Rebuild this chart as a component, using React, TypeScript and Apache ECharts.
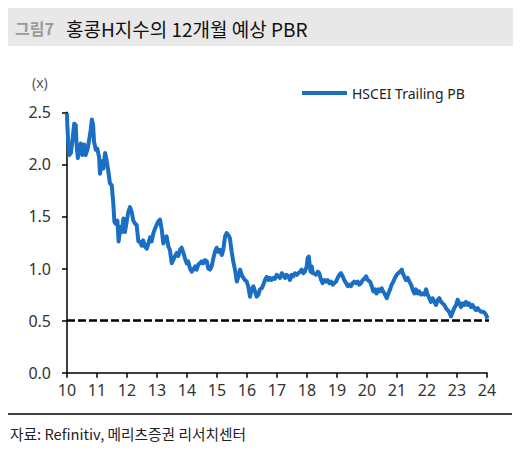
import React, { useEffect, useRef } from "react";
import * as echarts from "echarts";

const TITLE_TAG = "그림7";
const TITLE = "홍콩H지수의 12개월 예상 PBR";
const SOURCE = "자료: Refinitiv, 메리츠증권 리서치센터";
const UNIT = "(x)";
const SERIES_NAME = "HSCEI Trailing PB";

const X_MIN = 2010;
const X_MAX = 2024;
const Y_MIN = 0;
const Y_MAX = 2.5;
const Y_STEP = 0.5;
const REF_LEVEL = 0.5;
const REF_RANGE = [2010, 2024.37];

// fractional year positions
const dates = [
  2010.0, 2010.01, 2010.04, 2010.08, 2010.13, 2010.19, 2010.24, 2010.29, 2010.32, 2010.36,
  2010.41, 2010.46, 2010.51, 2010.57, 2010.62, 2010.68, 2010.73, 2010.79, 2010.83, 2010.87,
  2010.9, 2010.96, 2011.01, 2011.07, 2011.1, 2011.16, 2011.21, 2011.27, 2011.32, 2011.38,
  2011.43, 2011.49, 2011.54, 2011.58, 2011.62, 2011.68, 2011.72, 2011.78, 2011.83, 2011.88,
  2011.93, 2011.99, 2012.04, 2012.1, 2012.16, 2012.21, 2012.27, 2012.32, 2012.38, 2012.43,
  2012.49, 2012.54, 2012.6, 2012.66, 2012.71, 2012.77, 2012.82, 2012.88, 2012.93, 2012.99,
  2013.04, 2013.1, 2013.16, 2013.21, 2013.27, 2013.32, 2013.38, 2013.43, 2013.49, 2013.54,
  2013.6, 2013.66, 2013.71, 2013.77, 2013.82, 2013.88, 2013.93, 2013.99, 2014.04, 2014.1,
  2014.16, 2014.21, 2014.27, 2014.32, 2014.38, 2014.43, 2014.49, 2014.54, 2014.6, 2014.66,
  2014.71, 2014.77, 2014.82, 2014.88, 2014.93, 2014.99, 2015.04, 2015.1, 2015.16, 2015.21,
  2015.27, 2015.32, 2015.38, 2015.43, 2015.49, 2015.54, 2015.6, 2015.66, 2015.71, 2015.77,
  2015.82, 2015.88, 2015.93, 2015.99, 2016.04, 2016.1, 2016.16, 2016.21, 2016.27, 2016.32,
  2016.38, 2016.43, 2016.49, 2016.54, 2016.6, 2016.66, 2016.71, 2016.77, 2016.82, 2016.88,
  2016.93, 2016.99, 2017.04, 2017.1, 2017.16, 2017.21, 2017.27, 2017.32, 2017.38, 2017.43,
  2017.49, 2017.54, 2017.6, 2017.66, 2017.71, 2017.77, 2017.82, 2017.88, 2017.93, 2017.99,
  2018.02, 2018.06, 2018.09, 2018.12, 2018.16, 2018.19, 2018.24, 2018.3, 2018.36, 2018.41,
  2018.47, 2018.52, 2018.58, 2018.63, 2018.69, 2018.74, 2018.8, 2018.86, 2018.91, 2018.97,
  2019.02, 2019.08, 2019.13, 2019.19, 2019.24, 2019.3, 2019.36, 2019.41, 2019.47, 2019.52,
  2019.58, 2019.63, 2019.69, 2019.74, 2019.8, 2019.86, 2019.91, 2019.97, 2020.02, 2020.1,
  2020.16, 2020.21, 2020.27, 2020.32, 2020.38, 2020.43, 2020.49, 2020.54, 2020.6, 2020.66,
  2020.71, 2020.77, 2020.82, 2020.88, 2020.93, 2020.99, 2021.04, 2021.1, 2021.16, 2021.19,
  2021.24, 2021.3, 2021.36, 2021.41, 2021.47, 2021.52, 2021.58, 2021.63, 2021.69, 2021.74,
  2021.8, 2021.86, 2021.91, 2021.97, 2022.02, 2022.08, 2022.13, 2022.19, 2022.24, 2022.3,
  2022.36, 2022.41, 2022.47, 2022.52, 2022.58, 2022.63, 2022.69, 2022.74, 2022.8, 2022.86,
  2022.91, 2022.97, 2023.02, 2023.08, 2023.13, 2023.19, 2023.24, 2023.3, 2023.36, 2023.41,
  2023.47, 2023.52, 2023.58, 2023.63, 2023.69, 2023.74, 2023.8, 2023.86, 2023.91, 2023.97,
  2024.02,
];

const pb = [
  2.49, 2.38, 2.22, 2.09, 2.11, 2.25, 2.39, 2.38, 2.19, 2.06,
  2.15, 2.2, 2.09, 2.19, 2.09, 2.14, 2.22, 2.33, 2.43, 2.38,
  2.22, 2.14, 2.15, 2.07, 1.91, 2.03, 1.96, 2.11, 2.04, 1.93,
  1.82, 1.8, 1.64, 1.45, 1.43, 1.46, 1.26, 1.4, 1.35, 1.48,
  1.35, 1.45, 1.54, 1.59, 1.54, 1.46, 1.43, 1.42, 1.26, 1.26,
  1.22, 1.27, 1.21, 1.19, 1.24, 1.3, 1.26, 1.34, 1.38, 1.42,
  1.45, 1.47, 1.37, 1.24, 1.29, 1.31, 1.21, 1.18, 1.05, 1.08,
  1.12, 1.15, 1.12, 1.18, 1.2, 1.15, 1.1, 1.05, 1.07, 1.0,
  0.97, 0.99, 1.02, 0.99, 1.04, 1.05, 1.07, 1.05, 1.08, 1.07,
  1.0, 0.99, 1.02, 1.1, 1.16, 1.2, 1.16, 1.18, 1.13, 1.18,
  1.31, 1.34, 1.32, 1.29, 1.16, 1.07, 0.99, 0.875, 0.92, 0.99,
  0.94, 0.91, 0.89, 0.875, 0.83, 0.73, 0.8, 0.83, 0.78, 0.73,
  0.75, 0.8, 0.81, 0.84, 0.89, 0.92, 0.89, 0.91, 0.89, 0.91,
  0.9, 0.94, 0.925, 0.91, 0.955, 0.94, 0.91, 0.94, 0.925, 0.89,
  0.94, 0.925, 0.955, 0.94, 0.955, 0.97, 0.99, 0.955, 0.97, 1.02,
  1.1, 1.115, 1.035, 0.97, 1.02, 0.955, 0.955, 0.94, 0.97, 0.955,
  0.89, 0.86, 0.89, 0.875, 0.89, 0.86, 0.875, 0.845, 0.86, 0.875,
  0.91, 0.94, 0.955, 0.925, 0.89, 0.86, 0.83, 0.845, 0.83, 0.86,
  0.875, 0.86, 0.875, 0.845, 0.86, 0.89, 0.9, 0.925, 0.89, 0.875,
  0.83, 0.78, 0.8, 0.76, 0.8, 0.78, 0.81, 0.78, 0.75, 0.715,
  0.76, 0.8, 0.845, 0.875, 0.91, 0.94, 0.955, 0.97, 0.99, 0.955,
  0.925, 0.89, 0.91, 0.875, 0.845, 0.8, 0.76, 0.8, 0.76, 0.78,
  0.75, 0.76, 0.75, 0.8, 0.75, 0.715, 0.68, 0.715, 0.68, 0.65,
  0.7, 0.715, 0.68, 0.665, 0.65, 0.62, 0.6, 0.585, 0.54, 0.585,
  0.62, 0.65, 0.7, 0.665, 0.63, 0.665, 0.65, 0.68, 0.65, 0.665,
  0.63, 0.65, 0.62, 0.6, 0.62, 0.6, 0.585, 0.585, 0.58, 0.555,
  0.52,
];

const LATIN = "'Noto Sans', 'Open Sans', sans-serif";
const KR = "'Noto Sans CJK KR', 'Noto Sans', sans-serif";
const BLUE = "#1a6ec4";

export default function App() {
  const ref = useRef<HTMLDivElement>(null);

  useEffect(() => {
    if (!ref.current) return;
    const chart = echarts.init(ref.current, undefined, { renderer: "svg" });
    const lineData = dates.map((d, i) => [d, pb[i]]);
    const refData = REF_RANGE.map((d) => [d, REF_LEVEL]);

    chart.setOption({
      animation: false,
      backgroundColor: "#ffffff",
      grid: {
        left: 67,
        right: 36,
        top: 112.3,
        bottom: 77.3,
        containLabel: false,
        outerBoundsMode: "none",
      },
      legend: {
        data: [{ name: SERIES_NAME, icon: "rect", itemStyle: { color: BLUE } }],
        left: 297,
        top: 81,
        itemWidth: 45,
        itemHeight: 4,
        itemGap: 5,
        textStyle: { fontFamily: LATIN, fontSize: 14, color: "#222" },
      },
      xAxis: {
        type: "value",
        min: X_MIN,
        max: X_MAX,
        interval: 1,
        axisLine: { show: true, lineStyle: { color: "#000", width: 1.5 } },
        axisTick: { show: true, inside: false, length: 5, lineStyle: { color: "#000", width: 1.5 } },
        splitLine: { show: false },
        axisLabel: {
          margin: 9,
          fontFamily: LATIN,
          fontSize: 16,
          color: "#333",
          formatter: (v: number) => String(Math.round(v - 2000)),
        },
      },
      yAxis: {
        type: "value",
        min: Y_MIN,
        max: Y_MAX,
        interval: Y_STEP,
        axisLine: { show: true, lineStyle: { color: "#000", width: 1.5 } },
        axisTick: { show: true, inside: false, length: 5, lineStyle: { color: "#000", width: 1.5 } },
        splitLine: { show: false },
        axisLabel: {
          margin: 16,
          fontFamily: LATIN,
          fontSize: 16,
          color: "#333",
          formatter: (v: number) => v.toFixed(1),
        },
      },
      series: [
        {
          name: "ref",
          type: "line",
          data: refData,
          symbol: "none",
          clip: false,
          silent: true,
          lineStyle: { color: "#000", width: 2.5, type: [8, 3] },
          z: 2,
        },
        {
          name: SERIES_NAME,
          type: "line",
          data: lineData,
          symbol: "none",
          clip: false,
          lineStyle: { color: BLUE, width: 4, join: "round" },
          itemStyle: { color: BLUE },
          z: 3,
        },
      ],
      graphic: [
        {
          type: "rect",
          shape: { x: 8, y: 8, width: 505, height: 38 },
          style: { fill: "#e8e8e8" },
          silent: true,
        },
        {
          type: "text",
          x: 15,
          y: 28,
          style: {
            text: TITLE_TAG,
            fill: "#9a9a9a",
            font: `bold 16px ${KR}`,
            verticalAlign: "middle",
          },
        },
        {
          type: "text",
          x: 66,
          y: 28,
          style: {
            text: TITLE,
            fill: "#111",
            font: `19px ${KR}`,
            verticalAlign: "middle",
          },
        },
        {
          type: "text",
          x: 32,
          y: 82,
          style: {
            text: UNIT,
            fill: "#555",
            font: `14px ${LATIN}`,
            verticalAlign: "middle",
          },
        },
        {
          type: "line",
          shape: { x1: 8, y1: 414, x2: 512, y2: 414 },
          style: { stroke: "#000", lineWidth: 1.5 },
          silent: true,
        },
        {
          type: "text",
          x: 10,
          y: 433,
          style: {
            text: SOURCE,
            fill: "#222",
            font: `14.7px ${KR}`,
            verticalAlign: "middle",
          },
        },
      ],
    });

    return () => chart.dispose();
  }, []);

  return (
    <div
      ref={ref}
      style={{ position: "fixed", left: 0, top: 0, width: 523, height: 450, background: "#fff" }}
    />
  );
}
